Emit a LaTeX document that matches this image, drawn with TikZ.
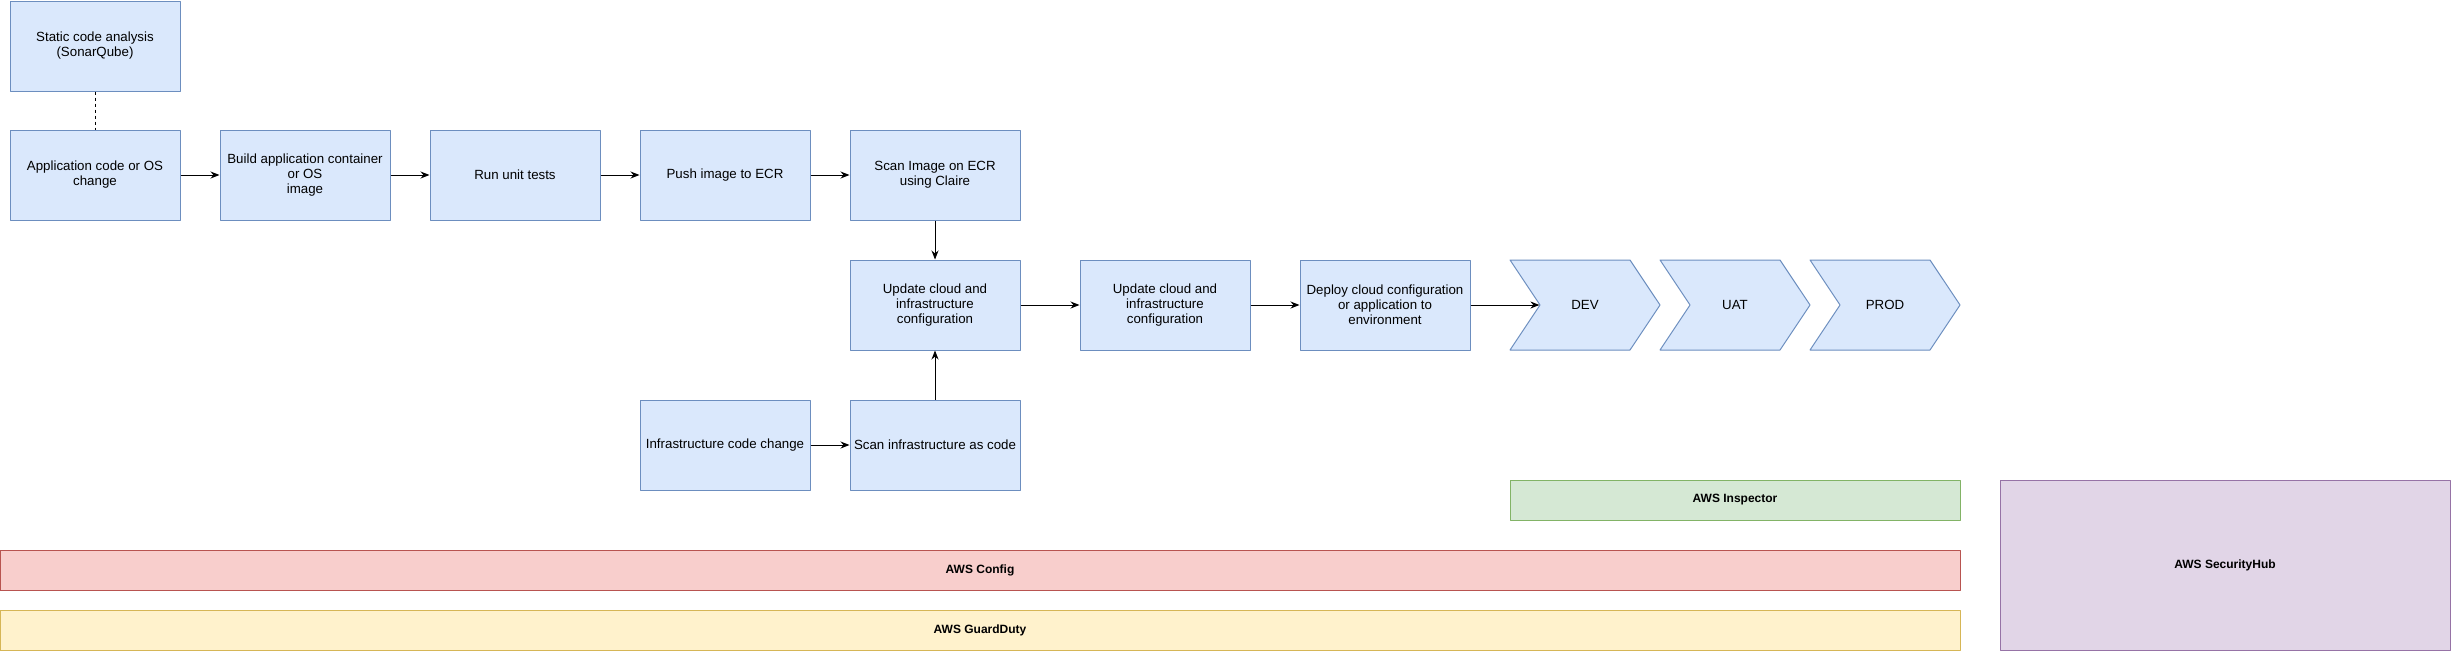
\documentclass[tikz,border=0pt]{standalone}
\usepackage{fontspec}
\setmainfont{Liberation Sans}
\usetikzlibrary{arrows.meta,shapes.symbols}
\definecolor{bluefill}{HTML}{DAE8FC}\definecolor{bluedraw}{HTML}{6C8EBF}
\definecolor{greenfill}{HTML}{D5E8D4}\definecolor{greendraw}{HTML}{82B366}
\definecolor{redfill}{HTML}{F8CECC}\definecolor{reddraw}{HTML}{B85450}
\definecolor{yellowfill}{HTML}{FFF2CC}\definecolor{yellowdraw}{HTML}{D6B656}
\definecolor{purplefill}{HTML}{E1D5E7}\definecolor{purpledraw}{HTML}{9673A6}
\tikzset{
  box/.style={draw=bluedraw, fill=bluefill, line width=1pt, minimum width=170pt, minimum height=90pt, inner sep=0pt, align=center},
  stage/.style={signal, signal from=west, signal to=east, signal pointer angle=112.6, draw=bluedraw, fill=bluefill, line width=1pt, minimum width=150pt, minimum height=90pt, inner sep=0pt},
  band/.style={line width=1pt, minimum height=40pt, inner sep=0pt, font=\fontsize{12}{14}\selectfont\bfseries}
}
\begin{document}
\begin{tikzpicture}[x=1pt, y=-1pt, >={Stealth[length=9pt,width=7pt]}, font=\fontsize{13.3}{15}\selectfont, line join=round]
		\useasboundingbox (0,0) rectangle (2451,651);
		% pipeline for application code
		\node[box] (static) at (95,46) {Static code analysis\\(SonarQube)};
		\node[box] (app) at (95,175) {Application code or OS\\change};
		\node[box] (build) at (305,175) {Build application container\\or OS\\image};
		\node[box] (tests) at (515,175) {Run unit tests};
		\node[box] (push) at (725,175) {Push image to ECR};
		\node[box] (scanecr) at (935,175) {Scan Image on ECR\\using Claire};
		% cloud and infrastructure
		\node[box] (update) at (935,305) {Update cloud and\\infrastructure\\configuration};
		\node[box] (updatetwo) at (1165,305) {Update cloud and\\infrastructure\\configuration};
		\node[box] (deploy) at (1385,305) {Deploy cloud configuration\\or application to\\environment};
		\node[box] (infra) at (725,445) {Infrastructure code change};
		\node[box] (scaninfra) at (935,445) {Scan infrastructure as code};
		% environments
		\node[stage] (dev) at (1585,305) {DEV};
		\node[stage] (uat) at (1735,305) {UAT};
		\node[stage] (prod) at (1885,305) {PROD};
		% AWS services
		\node[band, draw=greendraw, fill=greenfill, minimum width=450pt] (inspector) at (1735,500) {AWS Inspector};
		\node[band, draw=reddraw, fill=redfill, minimum width=1960pt] (config) at (980,570) {AWS Config};
		\node[band, draw=yellowdraw, fill=yellowfill, minimum width=1960pt] (guardduty) at (980,630) {AWS GuardDuty};
		\node[band, draw=purpledraw, fill=purplefill, minimum width=450pt, minimum height=170pt] (securityhub) at (2225,565) {AWS SecurityHub};
		% connectors
		\draw[dashed, line width=0.8pt] (static)--(app);
		\draw[->, line width=1pt] (app)--(build);
		\draw[->, line width=1pt] (build)--(tests);
		\draw[->, line width=1pt] (tests)--(push);
		\draw[->, line width=1pt] (push)--(scanecr);
		\draw[->, line width=0.8pt] (scanecr)--(update);
		\draw[->, line width=0.8pt] (scaninfra)--(update);
		\draw[->, line width=1pt] (infra)--(scaninfra);
		\draw[->, line width=1pt] (update)--(updatetwo);
		\draw[->, line width=1pt] (updatetwo)--(deploy);
		\draw[->, line width=1pt] (deploy)--(dev.west);
\end{tikzpicture}
\end{document}
